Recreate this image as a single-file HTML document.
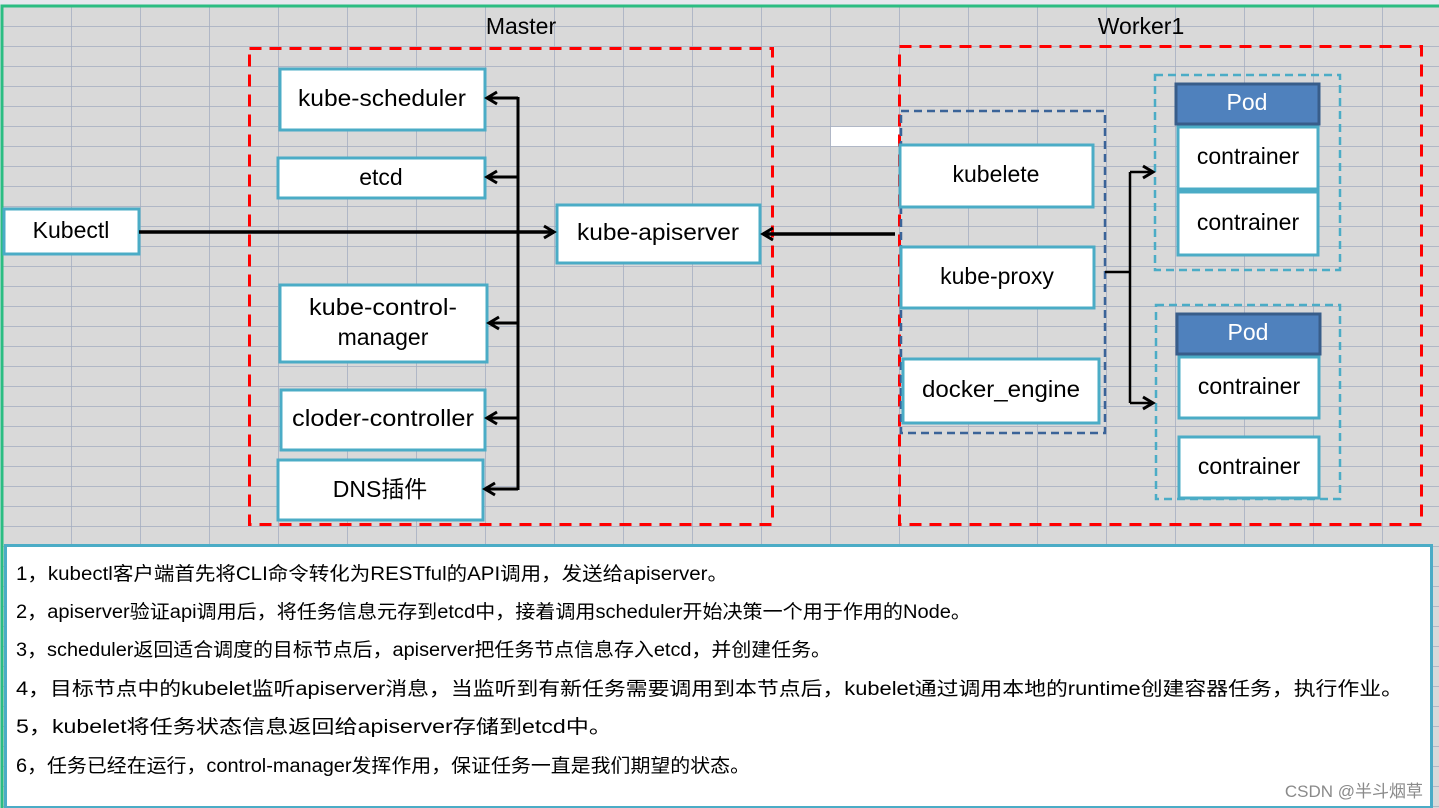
<!DOCTYPE html>
<html><head><meta charset="utf-8"><style>
html,body{margin:0;padding:0;background:#e6e8ee;}
svg{display:block;}
text{font-family:"Liberation Sans","Noto Sans CJK SC",sans-serif;}
</style></head><body>
<svg width="1439" height="808" viewBox="0 0 1439 808" xmlns="http://www.w3.org/2000/svg">
<defs>
<pattern id="g" x="2" y="6" width="69" height="20" patternUnits="userSpaceOnUse">
<rect width="69" height="20" fill="#d9d9d9"/>
<path d="M0 0V20M0 0H69" stroke="#a3acbf" stroke-width="1.5" fill="none"/>
</pattern>
<marker id="a" markerWidth="16" markerHeight="16" refX="13" refY="8" orient="auto" markerUnits="userSpaceOnUse">
<path d="M3 2L13 8L3 14" fill="none" stroke="#000" stroke-width="3"/>
</marker>
</defs>
<rect x="0" y="0" width="1439" height="808" fill="#e6e8ee"/>
<rect x="3" y="7" width="1436" height="801" fill="url(#g)"/>
<path d="M2 808V6H1439" stroke="#2bbd82" stroke-width="3" fill="none"/>
<rect x="831" y="127" width="68" height="19" fill="#fff"/>

<g font-size="23" fill="#000" text-anchor="middle">
<text x="521" y="34">Master</text>
<text x="1141" y="34">Worker1</text>
</g>

<rect x="249.5" y="48.5" width="523" height="476" fill="none" stroke="#f00" stroke-width="3" stroke-dasharray="12,8"/>
<rect x="899.5" y="46.5" width="522" height="478" fill="none" stroke="#f00" stroke-width="3" stroke-dasharray="12,8"/>
<rect x="901" y="111" width="204" height="322" fill="none" stroke="#3a6398" stroke-width="2.5" stroke-dasharray="8,5"/>
<rect x="1155" y="75" width="185" height="195" fill="none" stroke="#4bacc6" stroke-width="2.5" stroke-dasharray="8,5"/>
<rect x="1156" y="305" width="184" height="194" fill="none" stroke="#4bacc6" stroke-width="2.5" stroke-dasharray="8,5"/>

<g fill="#fff" stroke="#4bacc6" stroke-width="3">
<rect x="280" y="69" width="205" height="61"/>
<rect x="278" y="158" width="207" height="40"/>
<rect x="4" y="209" width="135" height="45"/>
<rect x="557" y="205" width="203" height="58"/>
<rect x="280" y="285" width="207" height="77"/>
<rect x="281" y="390" width="204" height="60"/>
<rect x="278" y="460" width="205" height="60"/>
<rect x="900" y="145" width="193" height="62"/>
<rect x="901" y="247" width="193" height="61"/>
<rect x="903" y="359" width="196" height="64"/>
<rect x="1178" y="127" width="140" height="62"/>
<rect x="1178" y="192" width="140" height="63"/>
<rect x="1179" y="357" width="140" height="61"/>
<rect x="1179" y="437" width="140" height="61"/>
</g>
<g fill="#4f81bd" stroke="#385d8a" stroke-width="3">
<rect x="1176" y="84" width="143" height="40"/>
<rect x="1177" y="314" width="143" height="40"/>
</g>

<g stroke="#000" stroke-width="3" fill="none">
<path d="M518 97V490"/>
<path d="M518 98H487" marker-end="url(#a)"/>
<path d="M518 177H487" marker-end="url(#a)"/>
<path d="M518 323H489" marker-end="url(#a)"/>
<path d="M518 418H487" marker-end="url(#a)"/>
<path d="M518 489H485" marker-end="url(#a)"/>
<path d="M139 232H554" stroke-width="3.5" marker-end="url(#a)"/>
<path d="M895 234H763" stroke-width="3.5" marker-end="url(#a)"/>
<path d="M1105 272H1130M1130 172V403" stroke-width="2.5"/>
<path d="M1130 172H1153" stroke-width="2.5" marker-end="url(#a)"/>
<path d="M1130 403H1153" stroke-width="2.5" marker-end="url(#a)"/>
</g>

<g font-size="23" fill="#000" text-anchor="middle">
<text x="382" y="106" textLength="168" lengthAdjust="spacingAndGlyphs">kube-scheduler</text>
<text x="381" y="185">etcd</text>
<text x="71" y="238">Kubectl</text>
<text x="658" y="240" textLength="162" lengthAdjust="spacingAndGlyphs">kube-apiserver</text>
<text x="383" y="315" textLength="148" lengthAdjust="spacingAndGlyphs">kube-control-</text>
<text x="383" y="345">manager</text>
<text x="383" y="426" textLength="182" lengthAdjust="spacingAndGlyphs">cloder-controller</text>
<text x="380" y="497">DNS插件</text>
<text x="996" y="182">kubelete</text>
<text x="997" y="284">kube-proxy</text>
<text x="1001" y="397" textLength="158" lengthAdjust="spacingAndGlyphs">docker_engine</text>
<text x="1248" y="164">contrainer</text>
<text x="1248" y="230">contrainer</text>
<text x="1249" y="394">contrainer</text>
<text x="1249" y="474">contrainer</text>
<text x="1247" y="110" fill="#fff">Pod</text>
<text x="1248" y="340" fill="#fff">Pod</text>
</g>

<rect x="5.5" y="545.5" width="1426" height="262" fill="#fff" stroke="#4bacc6" stroke-width="3"/>
<g font-size="19" fill="#000" lengthAdjust="spacingAndGlyphs">
<text x="16" y="580" textLength="712" lengthAdjust="spacingAndGlyphs">1，kubectl客户端首先将CLI命令转化为RESTful的API调用，发送给apiserver。</text>
<text x="16" y="618" textLength="955" lengthAdjust="spacingAndGlyphs">2，apiserver验证api调用后，将任务信息元存到etcd中，接着调用scheduler开始决策一个用于作用的Node。</text>
<text x="16" y="656" textLength="815" lengthAdjust="spacingAndGlyphs">3，scheduler返回适合调度的目标节点后，apiserver把任务节点信息存入etcd，并创建任务。</text>
<text x="16" y="695" textLength="1387" lengthAdjust="spacingAndGlyphs">4，目标节点中的kubelet监听apiserver消息，当监听到有新任务需要调用到本节点后，kubelet通过调用本地的runtime创建容器任务，执行作业。</text>
<text x="16" y="733" textLength="596" lengthAdjust="spacingAndGlyphs">5，kubelet将任务状态信息返回给apiserver存储到etcd中。</text>
<text x="16" y="772" textLength="734" lengthAdjust="spacingAndGlyphs">6，任务已经在运行，control-manager发挥作用，保证任务一直是我们期望的状态。</text>
</g>
<text x="1423" y="797" font-size="17" fill="#8a8a8a" text-anchor="end">CSDN @半斗烟草</text>
</svg>
</body></html>
